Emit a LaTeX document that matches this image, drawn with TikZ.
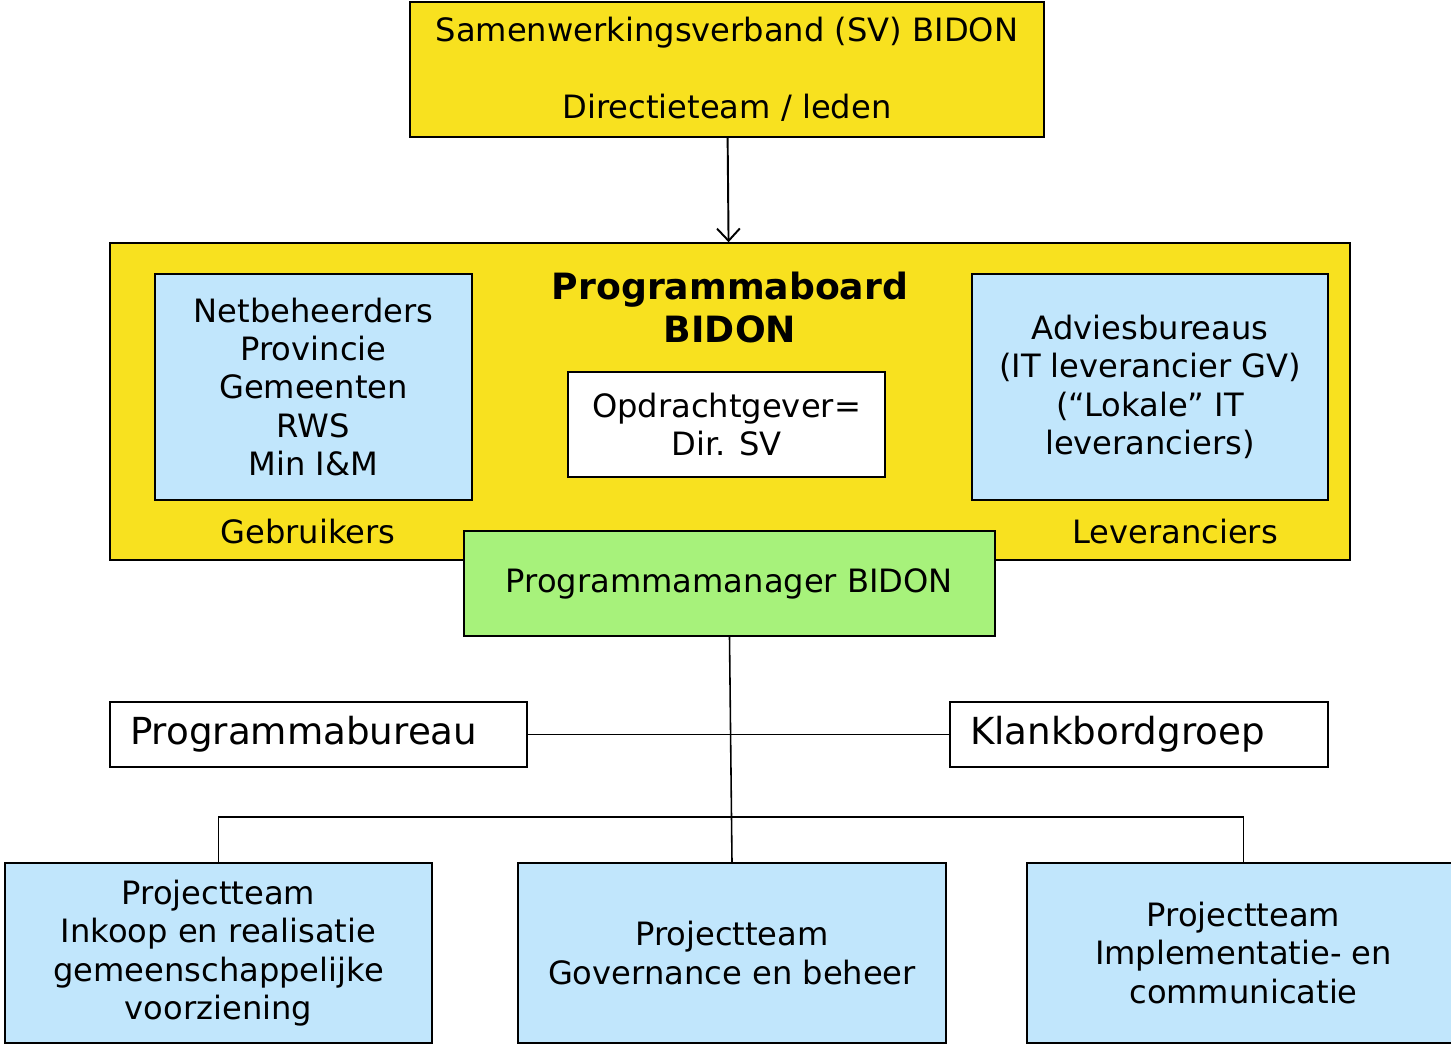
\documentclass[tikz,border=0pt]{standalone}
\usepackage{fontspec}
\setmainfont{DejaVu Sans}
\usepackage{xcolor}
\usepackage{tikz}
\usetikzlibrary{arrows.meta, positioning}

\definecolor{bidonyellow}{RGB}{248,225,31}
\definecolor{bidonblue}{RGB}{193,230,252}
\definecolor{bidongreen}{RGB}{167,242,123}

\begin{document}
\begin{tikzpicture}[x=0.02cm, y=-0.02cm, line width=0.9pt, font=\fontsize{18.3}{21.9}\selectfont]
		\tikzstyle{yellowbox} = [draw=black, rectangle, fill=bidonyellow, align=center]
		\tikzstyle{bluebox} = [draw=black, rectangle, fill=bidonblue, align=center]
		\tikzstyle{whitebox} = [draw=black, rectangle, fill=white, align=center]
		\tikzstyle{greenbox} = [draw=black, rectangle, fill=bidongreen, align=center]
		\tikzstyle{bigbox} = [draw=black, rectangle, fill=white, align=left, font=\fontsize{21.2}{25}\selectfont, inner xsep=0.4cm]
		\tikzstyle{arrow} = [->, line width=1.1pt, >={Straight Barb[length=7pt, width=13pt]}]
		
		\useasboundingbox (0, 0) rectangle (1451, 1045);
		
		\node[yellowbox, minimum width=12.68cm, minimum height=2.7cm] at (727, 69.5) (sv) {Samenwerkingsverband (SV) BIDON\\ ~\\ Directieteam / leden};
		
		\node[yellowbox, minimum width=24.8cm, minimum height=6.34cm] at (730, 401.5) (board) {};
		\node[bluebox, minimum width=6.34cm, minimum height=4.52cm] at (313.5, 387) (users) {Netbeheerders\\ Provincie\\ Gemeenten\\ RWS\\ Min I\&M};
		\node[bluebox, minimum width=7.12cm, minimum height=4.52cm] at (1150, 387) (suppliers) {Adviesbureaus\\ (IT leverancier GV)\\ (“Lokale” IT\\ leveranciers)};
		\node[align=center, font=\fontsize{20.6}{24.5}\selectfont\bfseries] at (730, 307.5) (title) {Programmaboard\\ BIDON};
		\node[whitebox, minimum width=6.34cm, minimum height=2.1cm] at (726.5, 424.5) (client) {Opdrachtgever=\\ Dir. SV};
		\node at (308, 532) (userlbl) {Gebruikers};
		\node at (1175, 532) (supplbl) {Leveranciers};
		
		\node[greenbox, minimum width=10.62cm, minimum height=2.1cm] at (729.5, 583.5) (pm) {Programmamanager BIDON};
		
		\node[bigbox, minimum width=8.34cm, minimum height=1.3cm, text width=7.54cm] at (318.5, 734.5) (office) {Programmabureau};
		\node[bigbox, minimum width=7.56cm, minimum height=1.3cm, text width=6.76cm] at (1139, 734.5) (sounding) {Klankbordgroep};
		
		\node[bluebox, minimum width=8.54cm, minimum height=3.6cm] at (218.5, 953) (team1) {Projectteam\\ Inkoop en realisatie\\ gemeenschappelijke\\ voorziening};
		\node[bluebox, minimum width=8.56cm, minimum height=3.6cm] at (732, 953) (team2) {Projectteam\\ Governance en beheer};
		\node[bluebox, minimum width=8.66cm, minimum height=3.6cm] at (1243.5, 953) (team3) {Projectteam\\ Implementatie- en\\ communicatie};
		
		\coordinate (split) at (732, 817);
		
		\draw [arrow] (sv) -- (board);
		\draw (office) -- (sounding.west);
		\draw (pm.south) -- (team2.north);
		\draw (team1.north) |- (split) -| (team3.north);
	\end{tikzpicture}
\end{document}
